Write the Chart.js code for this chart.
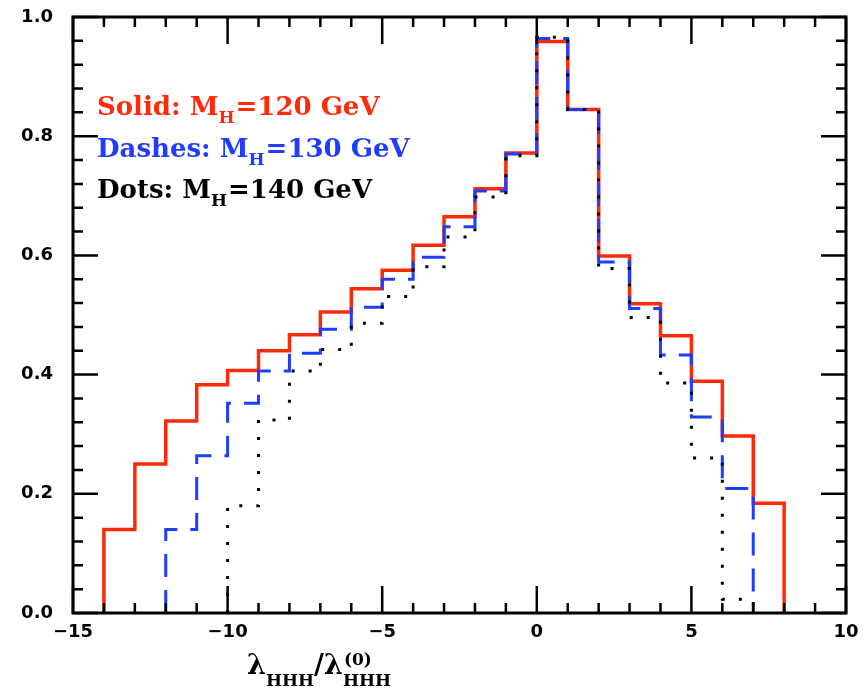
<!DOCTYPE html>
<html>
<head>
<meta charset="utf-8">
<script src="https://cdn.jsdelivr.net/npm/chart.js@4"></script>
<style>
  html, body { margin: 0; padding: 0; background: #ffffff; }
  #wrap { width: 865px; height: 689px; position: relative; }
</style>
</head>
<body>
<div id="wrap"><canvas id="c" width="865" height="689"></canvas></div>
<script>
// ---- data ----
const xTickLabels = [-15, -10, -5, 0, 5, 10];
const yTickLabels = [0.0, 0.2, 0.4, 0.6, 0.8, 1.0];

const start120 = -14;   // first bin left edge, M_H = 120 GeV
const values120 = [0.140, 0.250, 0.322, 0.383, 0.407, 0.440, 0.467, 0.505, 0.544, 0.575, 0.617,
                   0.665, 0.712, 0.772, 0.959, 0.845, 0.599, 0.519, 0.465, 0.389, 0.297, 0.184];

const start130 = -12;   // M_H = 130 GeV
const values130 = [0.140, 0.264, 0.352, 0.406, 0.436, 0.476, 0.513, 0.560, 0.597, 0.648,
                   0.708, 0.770, 0.964, 0.845, 0.589, 0.511, 0.433, 0.329, 0.209];

const start140 = -10;   // M_H = 140 GeV
const values140 = [0.180, 0.324, 0.406, 0.442, 0.486, 0.531, 0.581, 0.631, 0.698, 0.767,
                   0.966, 0.845, 0.578, 0.496, 0.386, 0.260, 0.023];

const legendLines = [
  { pre: "Solid: M", sub: "H", post: "=120 GeV", color: "#ff2a0a" },
  { pre: "Dashes: M", sub: "H", post: "=130 GeV", color: "#1f3cff" },
  { pre: "Dots: M", sub: "H", post: "=140 GeV", color: "#000000" }
];

// ---- helpers ----
function histPoints(start, values) {
  const pts = [{ x: start, y: 0 }];
  values.forEach((v, i) => pts.push({ x: start + i, y: v }));
  pts.push({ x: start + values.length, y: values[values.length - 1] });
  pts.push({ x: start + values.length, y: 0 });
  return pts;
}

const RED = "#ff2a0a", BLUE = "#1f3cff", BLACK = "#000000";
const TICK_FONT = { family: "'DejaVu Sans'", size: 18, weight: "bold" };

const decorations = {
  id: "decorations",
  afterDraw(chart) {
    const ctx = chart.ctx;
    const a = chart.chartArea;
    const xs = chart.scales.x, ys = chart.scales.y;
    ctx.save();
    ctx.strokeStyle = "#000";
    ctx.lineCap = "butt";
    // ticks (inside, on all four sides)
    ctx.lineWidth = 2.5;
    for (let v = -15; v <= 10; v++) {
      const px = xs.getPixelForValue(v);
      const len = (v % 5 === 0) ? 27 : 10;
      ctx.beginPath();
      ctx.moveTo(px, a.bottom); ctx.lineTo(px, a.bottom - len);
      ctx.moveTo(px, a.top); ctx.lineTo(px, a.top + len);
      ctx.stroke();
    }
    for (let i = 0; i <= 25; i++) {
      const py = ys.getPixelForValue(i * 0.04);
      const len = (i % 5 === 0) ? 25 : 10;
      ctx.beginPath();
      ctx.moveTo(a.left, py); ctx.lineTo(a.left + len, py);
      ctx.moveTo(a.right, py); ctx.lineTo(a.right - len, py);
      ctx.stroke();
    }
    // frame
    ctx.lineWidth = 3;
    ctx.strokeRect(a.left, a.top, a.right - a.left, a.bottom - a.top);

    // legend text
    const mainF = "bold 26px 'DejaVu Serif'";
    const subF = "bold 17px 'DejaVu Serif'";
    ctx.textBaseline = "alphabetic";
    ctx.textAlign = "left";
    const baselines = [115, 157, 198];
    legendLines.forEach((ln, i) => {
      let x = 97;
      const y = baselines[i];
      ctx.fillStyle = ln.color;
      ctx.font = mainF; ctx.fillText(ln.pre, x, y); x += ctx.measureText(ln.pre).width;
      ctx.font = subF; ctx.fillText(ln.sub, x, y + 8); x += ctx.measureText(ln.sub).width + 1;
      ctx.font = mainF; ctx.fillText(ln.post, x, y);
    });

    // x-axis title  λ_HHH / λ^(0)_HHH
    ctx.fillStyle = "#000";
    let x = 247;
    const by = 674;
    const lamF = "bold 27px 'DejaVu Serif'";
    const sF = "bold 17px 'DejaVu Serif'";
    ctx.font = lamF; ctx.fillText("λ", x, by); x += ctx.measureText("λ").width;
    ctx.font = sF; ctx.fillText("HHH", x, by + 12); x += ctx.measureText("HHH").width;
    ctx.font = lamF; ctx.fillText("/", x, by); x += ctx.measureText("/").width;
    ctx.fillText("λ", x, by); x += ctx.measureText("λ").width;
    ctx.font = sF;
    ctx.fillText("(0)", x + 1, by - 9);
    ctx.fillText("HHH", x, by + 12);
    ctx.restore();
  }
};

new Chart(document.getElementById("c"), {
  type: "line",
  data: {
    datasets: [
      { label: "M_H=140 GeV", data: histPoints(start140, values140), borderColor: BLACK,
        borderWidth: 3, borderDash: [3, 14], borderCapStyle: "butt", order: 1 },
      { label: "M_H=130 GeV", data: histPoints(start130, values130), borderColor: BLUE,
        borderWidth: 3, borderDash: [23, 13], order: 2 },
      { label: "M_H=120 GeV", data: histPoints(start120, values120), borderColor: RED,
        borderWidth: 3.5, order: 3 }
    ]
  },
  options: {
    responsive: false,
    animation: false,
    elements: { point: { radius: 0 }, line: { stepped: true, tension: 0, fill: false } },
    layout: { padding: { left: 0, right: 19, top: 17, bottom: 0 } },
    plugins: { legend: { display: false }, tooltip: { enabled: false }, title: { display: false } },
    scales: {
      x: {
        type: "linear", min: -15, max: 10,
        grid: { display: false, drawTicks: true, tickLength: 9 },
        border: { display: false },
        afterBuildTicks(s) { s.ticks = xTickLabels.map(v => ({ value: v })); },
        afterFit(s) { s.height = 76; },
        ticks: {
          padding: 0, color: "#000", font: TICK_FONT, maxRotation: 0, autoSkip: false,
          callback: v => String(v).replace("-", "\u2212")
        }
      },
      y: {
        type: "linear", min: 0, max: 1,
        grid: { display: false, drawTicks: true, tickLength: 20 },
        border: { display: false },
        afterBuildTicks(s) { s.ticks = yTickLabels.map(v => ({ value: v })); },
        afterFit(s) { s.width = 73; },
        ticks: {
          padding: 0, color: "#000", font: TICK_FONT, autoSkip: false,
          callback: v => Number(v).toFixed(1)
        }
      }
    }
  },
  plugins: [decorations]
});
</script>
</body>
</html>
